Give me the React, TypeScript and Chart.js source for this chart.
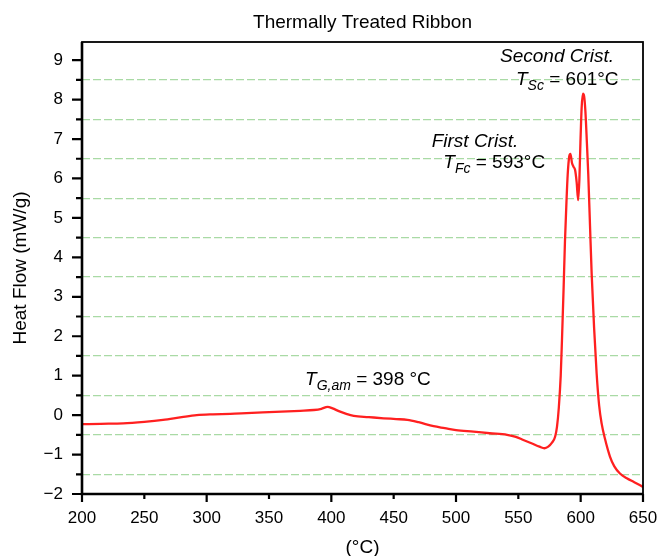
import React, { useEffect, useRef } from 'react';
import { Chart, registerables } from 'chart.js';

Chart.register(...registerables);

const FONT = '"Liberation Sans", Arial, Helvetica, sans-serif';

// Temperature (°C)
const temperatures = [
  200, 215, 233, 250, 265, 280, 292, 305, 319, 332, 345, 360, 375, 386, 392, 397,
  401, 406, 412, 418, 430, 442, 452, 461, 470, 482, 491, 500, 514, 527, 541, 548,
  554, 561, 567, 571, 574, 577, 579.5, 581, 582.5, 584, 585, 586.3, 587.4, 588.6,
  589.6, 590.8, 591.8, 593, 594.2, 595.5, 596.8, 598, 599, 599.8, 600.8, 601.8,
  602.8, 603.8, 605, 606.1, 607.5, 608.8, 610.8, 612.8, 614.8, 616.8, 619.5, 623.5,
  627, 631.5, 637, 643, 650,
];

// Heat flow (mW/g)
const heatFlow = [
  -0.23, -0.22, -0.21, -0.17, -0.12, -0.05, 0.0, 0.02, 0.03, 0.05, 0.07, 0.09, 0.11, 0.13, 0.16, 0.21,
  0.17, 0.1, 0.03, -0.02, -0.05, -0.08, -0.1, -0.12, -0.18, -0.28, -0.33, -0.38, -0.42, -0.46, -0.5, -0.55,
  -0.63, -0.72, -0.8, -0.84, -0.8, -0.7, -0.55, -0.3, 0.2, 1.0, 1.9, 3.2, 4.4, 5.4,
  6.1, 6.55, 6.62, 6.4, 6.3, 6.22, 5.9, 5.45, 6.0, 6.9, 7.8, 8.15,
  8.08, 7.7, 6.9, 6.1, 4.8, 3.6, 2.2, 1.06, 0.25, -0.21, -0.6, -1.05,
  -1.3, -1.48, -1.6, -1.7, -1.82,
];

const xTickValues = [200, 250, 300, 350, 400, 450, 500, 550, 600, 650];
const yTickValues = [-2, -1.5, -1, -0.5, 0, 0.5, 1, 1.5, 2, 2.5, 3, 3.5, 4, 4.5, 5, 5.5, 6, 6.5, 7, 7.5, 8, 8.5, 9];

const chartTitle = 'Thermally Treated Ribbon';
const yAxisTitle = 'Heat Flow (mW/g)';
const xAxisTitle = '(°C)';

// Annotation labels, anchored in data coordinates (left edge, baseline)
const annotationTexts = [
  { parts: [{ t: 'Second Crist.', kind: 'it' }], x: 535.3, y: 8.945 },
  { parts: [{ t: 'T', kind: 'it' }, { t: 'Sc', kind: 'sub' }, { t: ' = 601°C', kind: 'rm' }], x: 548.1, y: 8.37 },
  { parts: [{ t: 'First Crist.', kind: 'it' }], x: 480.5, y: 6.805 },
  { parts: [{ t: 'T', kind: 'it' }, { t: 'Fc', kind: 'sub' }, { t: ' = 593°C', kind: 'rm' }], x: 489.8, y: 6.26 },
  { parts: [{ t: 'T', kind: 'it' }, { t: 'G,am', kind: 'sub' }, { t: ' = 398 °C', kind: 'rm' }], x: 378.9, y: 0.763 },
];

const fmtY = (v: number) => (v < 0 ? '\u2212' + Math.abs(v) : String(v));

const overlayPlugin = {
  id: 'overlay',
  afterDraw(chart: any) {
    const { ctx, chartArea: a, scales } = chart;
    const xs = scales.x;
    const ys = scales.y;
    ctx.save();

    // frame
    ctx.strokeStyle = '#000';
    ctx.lineWidth = 1.8;
    ctx.strokeRect(a.left, a.top, a.right - a.left, a.bottom - a.top);
    ctx.lineWidth = 2.6;
    ctx.beginPath();
    ctx.moveTo(a.left, a.top);
    ctx.lineTo(a.left, a.bottom);
    ctx.lineTo(a.right, a.bottom);
    ctx.stroke();

    // tick marks
    ctx.lineWidth = 2.2;
    ctx.beginPath();
    for (const v of yTickValues) {
      const py = ys.getPixelForValue(v);
      const len = Number.isInteger(v) ? 10 : 6;
      ctx.moveTo(a.left - len, py);
      ctx.lineTo(a.left, py);
    }
    xTickValues.forEach((v, i) => {
      const px = xs.getPixelForValue(v);
      const len = i % 2 === 0 || i === xTickValues.length - 1 ? 8 : 5;
      ctx.moveTo(px, a.bottom);
      ctx.lineTo(px, a.bottom + len);
    });
    ctx.stroke();

    // titles
    ctx.fillStyle = '#000';
    ctx.textBaseline = 'alphabetic';
    ctx.textAlign = 'center';
    ctx.font = `19px ${FONT}`;
    const cx = (a.left + a.right) / 2;
    ctx.fillText(chartTitle, cx, 28);
    ctx.fillText(xAxisTitle, cx, 553);

    ctx.save();
    ctx.translate(26, (a.top + a.bottom) / 2);
    ctx.rotate(-Math.PI / 2);
    ctx.fillText(yAxisTitle, 0, 0);
    ctx.restore();

    // annotations
    ctx.textAlign = 'left';
    for (const ann of annotationTexts) {
      let px = xs.getPixelForValue(ann.x);
      const py = ys.getPixelForValue(ann.y);
      for (const p of ann.parts) {
        let dy = 0;
        if (p.kind === 'it') ctx.font = `italic 19px ${FONT}`;
        else if (p.kind === 'sub') {
          ctx.font = `italic 14px ${FONT}`;
          dy = 5;
        } else ctx.font = `19px ${FONT}`;
        ctx.fillText(p.t, px, py + dy);
        px += ctx.measureText(p.t).width;
      }
    }
    ctx.restore();
  },
};

export default function App() {
  const canvasRef = useRef<HTMLCanvasElement | null>(null);

  useEffect(() => {
    const canvas = canvasRef.current;
    if (!canvas) return;
    const chart = new Chart(canvas, {
      type: 'line',
      data: {
        datasets: [
          {
            data: temperatures.map((t, i) => ({ x: t, y: heatFlow[i] })),
            borderColor: '#ff2020',
            borderWidth: 2.3,
            pointRadius: 0,
            cubicInterpolationMode: 'monotone',
            fill: false,
          },
        ],
      },
      options: {
        animation: false,
        responsive: false,
        maintainAspectRatio: false,
        layout: { padding: { top: 42, right: 14, left: 0, bottom: 0 } },
        plugins: { legend: { display: false }, tooltip: { enabled: false }, title: { display: false } },
        scales: {
          x: {
            type: 'linear',
            min: 200,
            max: 650,
            afterBuildTicks: (s: any) => {
              s.ticks = xTickValues.map((v) => ({ value: v }));
            },
            afterFit: (s: any) => {
              s.height = 62;
              s.paddingLeft = 0;
              s.paddingRight = 0;
            },
            grid: { display: false, drawTicks: false },
            border: { display: false },
            ticks: {
              padding: 14,
              autoSkip: false,
              maxRotation: 0,
              color: '#000',
              font: { size: 17, family: FONT },
              callback: (v: any) => String(v),
            },
          },
          y: {
            type: 'linear',
            min: -2,
            max: 9.46,
            afterBuildTicks: (s: any) => {
              s.ticks = yTickValues.map((v) => ({ value: v }));
            },
            afterFit: (s: any) => {
              s.width = 82;
              s.paddingTop = 0;
              s.paddingBottom = 0;
            },
            grid: {
              drawTicks: false,
              lineWidth: 1.3,
              color: (c: any) =>
                c.tick && !Number.isInteger(c.tick.value) ? 'rgba(140,205,135,0.75)' : 'rgba(0,0,0,0)',
            },
            border: { display: false, dash: [8, 3] },
            ticks: {
              padding: 19,
              autoSkip: false,
              color: '#000',
              font: { size: 17, family: FONT },
              callback: (v: any) => (Number.isInteger(v) ? fmtY(v) : ''),
            },
          },
        },
      },
      plugins: [overlayPlugin],
    } as any);
    return () => chart.destroy();
  }, []);

  return (
    <div style={{ position: 'absolute', left: 0, top: 0, width: 657, height: 556, background: '#fff' }}>
      <canvas ref={canvasRef} width={657} height={556} style={{ display: 'block' }} />
    </div>
  );
}
